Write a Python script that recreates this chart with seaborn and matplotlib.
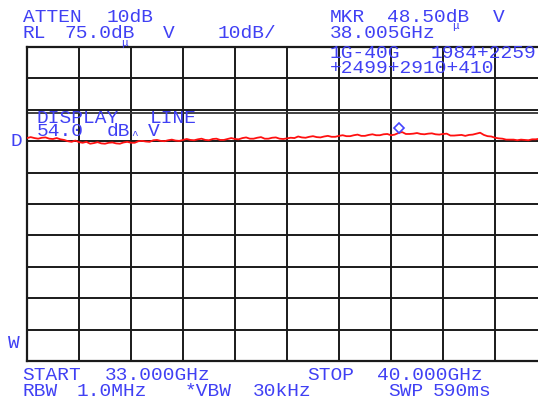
import numpy as np
import pandas as pd
import matplotlib
matplotlib.use("Agg")
import matplotlib.pyplot as plt
import matplotlib.transforms as mtransforms
import seaborn as sns

# ---------------- data ----------------
START_GHZ = 33.0
STOP_GHZ = 40.0
REF_LEVEL = 75.0          # dBuV, top of screen
DB_PER_DIV = 10.0
N_DIV = 10
DISPLAY_LINE = 54.0
MKR_FREQ = 38.005
MKR_LEVEL = 48.50

# trace level (dBuV), one value per 0.05 GHz sweep step, 33.00 .. 40.00 GHz
trace_33 = [46.0, 46.3, 46.0, 45.8, 46.1, 46.2, 45.8, 45.7, 46.0, 45.6,
            45.4, 45.0, 44.8, 45.2, 44.7, 44.5, 44.8, 44.2, 44.4, 44.7]
trace_34 = [44.3, 44.2, 44.5, 44.6, 44.3, 44.2, 44.6, 44.8, 44.5, 44.5,
            45.0, 45.1, 44.9, 44.8, 45.3, 45.4, 45.1, 45.0, 45.3, 45.5]
trace_35 = [45.2, 45.1, 45.4, 45.7, 45.4, 45.3, 45.6, 45.8, 45.4, 45.3,
            45.7, 45.8, 45.4, 45.4, 45.7, 46.0, 45.7, 45.6, 46.0, 46.2]
trace_36 = [45.8, 45.8, 46.1, 46.3, 45.8, 45.8, 46.1, 46.2, 45.8, 45.7,
            45.9, 46.1, 46.0, 46.5, 46.2, 46.1, 46.4, 46.6, 46.3, 46.2]
trace_37 = [46.5, 46.7, 46.4, 46.4, 46.7, 46.9, 46.6, 46.6, 46.9, 47.1,
            46.7, 46.7, 47.0, 47.2, 46.9, 46.9, 47.2, 47.3, 46.9, 47.1]
trace_38 = [47.6, 47.9, 47.3, 47.3, 47.4, 47.6, 47.3, 47.2, 47.4, 47.5,
            47.2, 47.1, 47.3, 47.4, 46.8, 46.8, 46.9, 47.0, 46.7, 47.0]
trace_39 = [47.1, 47.4, 47.7, 47.0, 46.6, 46.5, 46.1, 45.9, 45.8, 45.5,
            45.5, 45.5, 45.3, 45.5, 45.4, 45.3, 45.6, 45.6, 45.8, 46.0]
trace_40 = [45.9]

levels = trace_33 + trace_34 + trace_35 + trace_36 + trace_37 + trace_38 + trace_39 + trace_40
freqs = np.linspace(START_GHZ, STOP_GHZ, len(levels))
df = pd.DataFrame({"freq": freqs, "level": levels})

# ---------------- figure ----------------
W, H = 538, 401
sns.set_style("white")
plt.rcParams["font.family"] = ["Liberation Mono", "DejaVu Sans Mono", "DejaVu Sans"]

fig = plt.figure(figsize=(W / 100, H / 100), dpi=100)
fig.patch.set_facecolor("white")

# screen rectangle in pixels: left 27, right 547 (runs past edge), top 47, bottom 361
L, R, T, B = 27, 547, 47, 361
ax = fig.add_axes([L / W, 1 - B / H, (R - L) / W, (B - T) / H])

bottom = REF_LEVEL - N_DIV * DB_PER_DIV
ax.set_xlim(START_GHZ, STOP_GHZ)
ax.set_ylim(bottom, REF_LEVEL)
ax.set_xticks(np.linspace(START_GHZ, STOP_GHZ, N_DIV + 1))
ax.set_yticks(np.linspace(bottom, REF_LEVEL, N_DIV + 1))
ax.tick_params(length=0, labelbottom=False, labelleft=False)
ax.grid(True, color="#1a1a1a", linewidth=1.4)
for sp in ax.spines.values():
    sp.set_color("#1a1a1a")
    sp.set_linewidth(1.6)

# display line
ax.axhline(DISPLAY_LINE, color="#333333", linewidth=1.3, zorder=2)

# trace
sns.lineplot(data=df, x="freq", y="level", ax=ax, color="#ff1010",
             linewidth=1.3, zorder=3, legend=False)
ax.set_xlabel("")
ax.set_ylabel("")

# marker diamond (drawn slightly above the marker point)
off = mtransforms.offset_copy(ax.transData, fig=fig, x=0, y=2.5, units="dots")
ax.plot([MKR_FREQ], [MKR_LEVEL], marker="D", markersize=5, markerfacecolor="none",
        markeredgecolor="#4444ff", markeredgewidth=1.2, transform=off, zorder=4)

# ---------------- annotations ----------------
TXT = "#4040f4"
FS = 14


def put(x, y, s, fs=FS, **kw):
    fig.text(x / W, 1 - y / H, s, color=TXT, fontsize=fs, va="baseline",
             ha="left", **kw)


put(23, 22, "ATTEN")
put(107, 22, "10dB")
put(23, 38.5, "RL")
put(65, 38.5, "75.0dB")
put(163, 38.5, "V")
put(218, 38.5, "10dB/")
put(121, 46, "μ", fs=8)

put(330, 22, "MKR")
put(387, 22, "48.50dB")
put(493, 22, "V")
put(452, 29, "μ", fs=8)
put(330, 38.5, "38.005GHz")
put(330, 58, "1G-40G")
put(431, 58, "1984+2259")
put(330, 73, "+2499+2910+410")

put(37, 123, "DISPLAY")
put(150, 123, "LINE")
put(37, 136, "54.0")
put(107, 136, "dB")
put(131, 138, "^", fs=8)
put(148, 136, "V")

put(10, 146, "D")
put(8, 348, "W")

put(22, 380, "START")
put(105, 380, "33.000GHz")
put(307, 380, "STOP")
put(377, 380, "40.000GHz")
put(22, 396, "RBW")
put(77, 396, "1.0MHz")
put(185, 396, "*VBW")
put(253, 396, "30kHz")
put(388, 396, "SWP")
put(433, 396, "590ms")

fig.savefig("out.png", dpi=100, facecolor="white")
